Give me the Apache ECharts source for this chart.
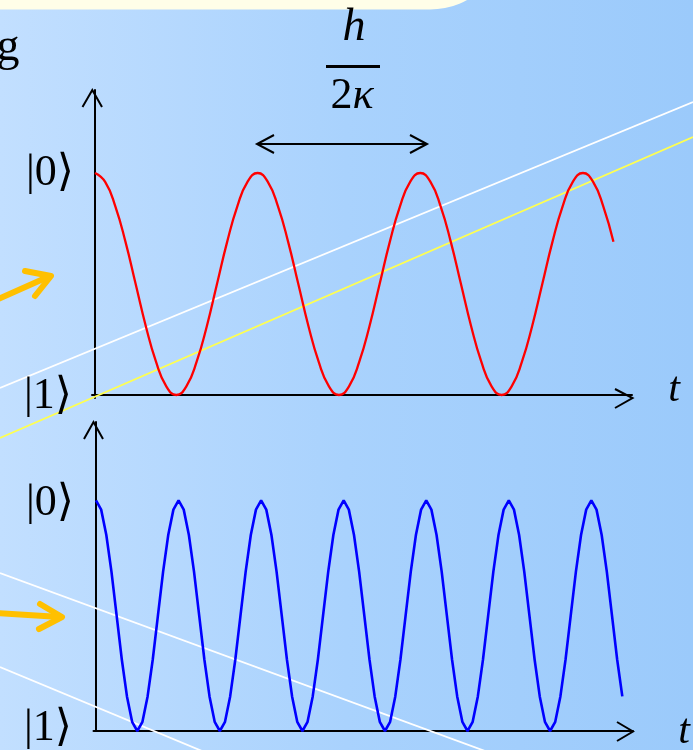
<!DOCTYPE html>
<html>
<head>
<meta charset="utf-8">
<script src="https://cdn.jsdelivr.net/npm/echarts@6/dist/echarts.min.js"></script>
<style>
  html, body { margin: 0; padding: 0; }
  #chart { width: 693px; height: 750px; }
</style>
</head>
<body>
<div id="chart"></div>
<script>
// Time is measured in 1/32 of the oscillation period h/2κ.
// Upper trace: occupation of |0⟩ for the slow oscillation (sampled every 2 time units).
const slowTime = [
  0, 2, 4, 6, 8, 10, 12, 14, 16, 18, 20, 22, 24, 26, 28, 30,
  32, 34, 36, 38, 40, 42, 44, 46, 48, 50, 52, 54, 56, 58, 60, 62,
  64, 66, 68, 70, 72, 74, 76, 78, 80, 82, 84, 86, 88, 90, 92, 94,
  96, 98, 100, 102
];
const slowPop = [
  1, 0.96, 0.85, 0.69, 0.5, 0.31, 0.15, 0.04, 0, 0.04, 0.15, 0.31, 0.5, 0.69, 0.85, 0.96,
  1, 0.96, 0.85, 0.69, 0.5, 0.31, 0.15, 0.04, 0, 0.04, 0.15, 0.31, 0.5, 0.69, 0.85, 0.96,
  1, 0.96, 0.85, 0.69, 0.5, 0.31, 0.15, 0.04, 0, 0.04, 0.15, 0.31, 0.5, 0.69, 0.85, 0.96,
  1, 0.96, 0.85, 0.69
];

// Lower trace: the faster oscillation (twice the frequency), sampled every time unit.
const fastTime = [
  0, 1, 2, 3, 4, 5, 6, 7, 8, 9, 10, 11, 12, 13, 14, 15,
  16, 17, 18, 19, 20, 21, 22, 23, 24, 25, 26, 27, 28, 29, 30, 31,
  32, 33, 34, 35, 36, 37, 38, 39, 40, 41, 42, 43, 44, 45, 46, 47,
  48, 49, 50, 51, 52, 53, 54, 55, 56, 57, 58, 59, 60, 61, 62, 63,
  64, 65, 66, 67, 68, 69, 70, 71, 72, 73, 74, 75, 76, 77, 78, 79,
  80, 81, 82, 83, 84, 85, 86, 87, 88, 89, 90, 91, 92, 93, 94, 95,
  96, 97, 98, 99, 100, 101, 102
];
const fastPop = [
  1, 0.96, 0.85, 0.69, 0.5, 0.31, 0.15, 0.04, 0, 0.04, 0.15, 0.31, 0.5, 0.69, 0.85, 0.96,
  1, 0.96, 0.85, 0.69, 0.5, 0.31, 0.15, 0.04, 0, 0.04, 0.15, 0.31, 0.5, 0.69, 0.85, 0.96,
  1, 0.96, 0.85, 0.69, 0.5, 0.31, 0.15, 0.04, 0, 0.04, 0.15, 0.31, 0.5, 0.69, 0.85, 0.96,
  1, 0.96, 0.85, 0.69, 0.5, 0.31, 0.15, 0.04, 0, 0.04, 0.15, 0.31, 0.5, 0.69, 0.85, 0.96,
  1, 0.96, 0.85, 0.69, 0.5, 0.31, 0.15, 0.04, 0, 0.04, 0.15, 0.31, 0.5, 0.69, 0.85, 0.96,
  1, 0.96, 0.85, 0.69, 0.5, 0.31, 0.15, 0.04, 0, 0.04, 0.15, 0.31, 0.5, 0.69, 0.85, 0.96,
  1, 0.96, 0.85, 0.69, 0.5, 0.31, 0.15
];

// Axis state labels
const stateLabels = ['|0⟩', '|1⟩'];
const timeLabel = 't';

const pair = (xs, ys) => xs.map((x, i) => [x, ys[i]]);

const SERIF = '"Liberation Serif", "DejaVu Serif", serif';
const INK = '#000';

const chart = echarts.init(document.getElementById('chart'), null, { renderer: 'canvas' });

function openHead(tip, a, b, w) {
  return {
    type: 'polyline', silent: true, z: 10,
    shape: { points: [a, tip, b] },
    style: { stroke: INK, lineWidth: w || 2, fill: null, lineJoin: 'miter' }
  };
}
function stroke(points, color, width, cap) {
  return {
    type: 'polyline', silent: true, z: 1,
    shape: { points },
    style: { stroke: color, lineWidth: width, fill: null, lineCap: cap || 'butt', lineJoin: 'round' }
  };
}
function label(text, x, y, size, italic) {
  return {
    type: 'text', silent: true, z: 10,
    style: {
      text, x, y,
      font: (italic ? 'italic ' : '') + size + 'px ' + SERIF,
      fill: INK, align: 'center', verticalAlign: 'middle'
    }
  };
}

const axisStyle = { show: true, lineStyle: { color: INK, width: 2 } };
const hidden = { show: false };

chart.setOption({
  animation: false,
  backgroundColor: {
    type: 'linear', x: 0, y: 0, x2: 1, y2: 0,
    colorStops: [
      { offset: 0, color: '#c2dfff' },
      { offset: 0.5, color: '#a9d2fd' },
      { offset: 1, color: '#9bcafb' }
    ]
  },
  grid: [
    { left: 92, top: 90, width: 540, height: 308 },
    { left: 93.5, top: 422, width: 539.5, height: 309 }
  ],
  xAxis: [
    { gridIndex: 0, type: 'value', min: -0.59, max: 105.65, axisLine: axisStyle,
      axisTick: hidden, axisLabel: hidden, splitLine: hidden },
    { gridIndex: 1, type: 'value', min: -0.485, max: 104.07, axisLine: axisStyle,
      axisTick: hidden, axisLabel: hidden, splitLine: hidden }
  ],
  yAxis: [
    { gridIndex: 0, type: 'value', min: -0.0135, max: 1.374, axisLine: axisStyle,
      axisTick: hidden, axisLabel: hidden, splitLine: hidden },
    { gridIndex: 1, type: 'value', min: 0, max: 1.34, axisLine: axisStyle,
      axisTick: hidden, axisLabel: hidden, splitLine: hidden }
  ],
  series: [
    {
      type: 'line', xAxisIndex: 0, yAxisIndex: 0, data: pair(slowTime, slowPop),
      smooth: 0.5, showSymbol: false, z: 5,
      lineStyle: { color: '#ff0000', width: 2.3 }
    },
    {
      type: 'line', xAxisIndex: 1, yAxisIndex: 1, data: pair(fastTime, fastPop),
      smooth: false, showSymbol: false, z: 5,
      lineStyle: { color: '#0000ff', width: 2.6 }
    }
  ],
  graphic: [
    // title banner edge at the top
    {
      type: 'rect', silent: true, z: 2,
      shape: { x: -20, y: -70, width: 527, height: 79.5, r: [0, 0, 77, 0] },
      style: { fill: '#fffee8' }
    },
    // slide decoration lines
    stroke([[0, 388], [693, 102]], '#ffffff', 1.8),
    stroke([[0, 438], [693, 137]], '#ffff50', 1.8),
    stroke([[0, 573], [485, 751]], '#ffffff', 1.8),
    stroke([[0, 667], [202, 751]], '#ffffff', 1.8),
    // orange pointer arrows
    stroke([[-4, 300], [50, 276]], '#ffc000', 6, 'round'),
    stroke([[25, 271], [51, 276], [35, 296]], '#ffc000', 6, 'round'),
    stroke([[-4, 613], [60, 617]], '#ffc000', 6, 'round'),
    stroke([[40, 604], [62, 617], [39, 629]], '#ffc000', 6, 'round'),
    // axis arrow heads
    openHead([92.3, 90], [82.5, 107], [102, 107]),
    openHead([632.5, 398], [615, 389], [615, 408]),
    openHead([93.5, 422], [84, 439], [103, 439]),
    openHead([633, 731.5], [617, 722], [617, 741]),
    // period marker h/2κ
    stroke([[258, 144], [426, 144]], INK, 2),
    openHead([257, 144], [274, 135], [274, 153]),
    openHead([427, 144], [410, 135], [410, 153]),
    label('h', 354, 28, 46, true),
    { type: 'rect', silent: true, z: 10, shape: { x: 326, y: 65, width: 54, height: 3 }, style: { fill: INK } },
    {
      type: 'text', silent: true, z: 10,
      style: {
        text: '{n|2}{k|κ}', x: 352, y: 96, align: 'center', verticalAlign: 'middle',
        rich: {
          n: { font: '44px ' + SERIF, fill: INK },
          k: { font: 'italic 44px ' + SERIF, fill: INK }
        }
      }
    },
    // stray text from the slide
    label('g', 8, 48, 46, false),
    // state labels
    label(stateLabels[0], 50, 173, 44, false),
    label(stateLabels[1], 48, 396, 44, false),
    label(stateLabels[0], 50, 503, 44, false),
    label(stateLabels[1], 48, 728, 44, false),
    label(timeLabel, 674, 390, 42, true),
    label(timeLabel, 684, 732, 42, true)
  ]
});
</script>
</body>
</html>
